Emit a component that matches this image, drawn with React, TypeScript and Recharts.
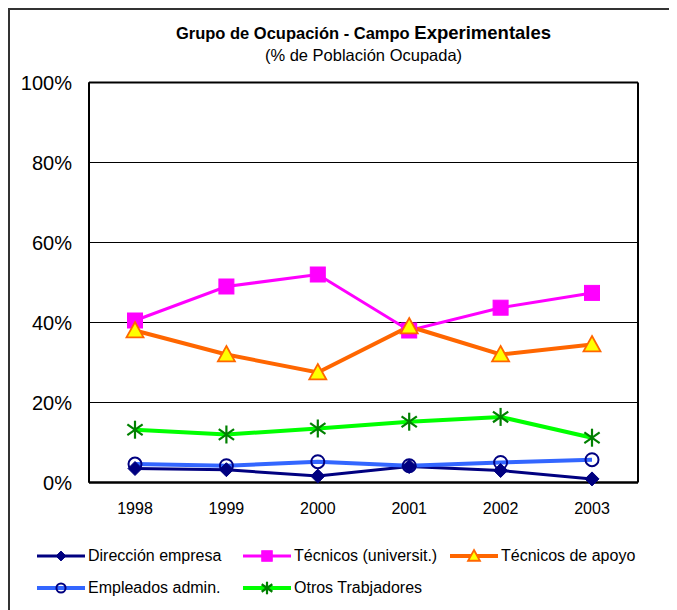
import React from 'react'
import { LineChart, Line, XAxis, YAxis, CartesianGrid } from 'recharts'

const YEARS = ['1998', '1999', '2000', '2001', '2002', '2003']
const DIRECCION = [3.5, 3.2, 1.6, 4.0, 3.0, 0.9]
const TEC_UNIV = [40.5, 49, 52, 38, 43.7, 47.4]
const TEC_APOYO = [38, 32, 27.5, 39, 32, 34.5]
const EMPLEADOS = [4.6, 4.2, 5.2, 4.2, 5.0, 5.7]
const OTROS = [13.2, 12, 13.5, 15.2, 16.4, 11.2]
const Y_TICKS = [0, 20, 40, 60, 80, 100]

const FONT = 'Arial, "Liberation Sans", sans-serif'

type Marker = 'diamond' | 'square' | 'triangle' | 'circle' | 'star'

interface Serie {
  key: string
  name: string
  values: number[]
  color: string
  width: number
  marker: Marker
}

const SERIES: Serie[] = [
  { key: 'dir', name: 'Dirección empresa', values: DIRECCION, color: '#000080', width: 3, marker: 'diamond' },
  { key: 'univ', name: 'Técnicos (universit.)', values: TEC_UNIV, color: '#FF00FF', width: 3, marker: 'square' },
  { key: 'apoyo', name: 'Técnicos de apoyo', values: TEC_APOYO, color: '#FF6600', width: 4, marker: 'triangle' },
  { key: 'emp', name: 'Empleados admin.', values: EMPLEADOS, color: '#3366FF', width: 4, marker: 'circle' },
  { key: 'otros', name: 'Otros Trabjadores', values: OTROS, color: '#00FF00', width: 4, marker: 'star' },
]

const data = YEARS.map((y, i) => {
  const row: Record<string, string | number> = { year: y }
  SERIES.forEach(s => { row[s.key] = s.values[i] })
  return row
})

function markerShape(m: Marker, cx: number, cy: number, k = 1, key?: string) {
  switch (m) {
    case 'diamond': {
      const r = 7 * k
      return <path key={key} d={`M${cx},${cy - r}L${cx + r},${cy}L${cx},${cy + r}L${cx - r},${cy}Z`} fill="#000080" stroke="#000080" />
    }
    case 'square': {
      const h = 7.5 * k
      return <rect key={key} x={cx - h} y={cy - h} width={h * 2} height={h * 2} fill="#FF00FF" stroke="#FF00FF" />
    }
    case 'triangle': {
      const h = 8.5 * k
      return <path key={key} d={`M${cx},${cy - h}L${cx + h},${cy + h * 0.8}L${cx - h},${cy + h * 0.8}Z`} fill="#FFFF00" stroke="#FF6600" strokeWidth={1.8} />
    }
    case 'circle':
      return <circle key={key} cx={cx} cy={cy} r={6.5 * k} fill="none" stroke="#000080" strokeWidth={2} />
    case 'star': {
      const r = 9 * k
      const d = r * 0.85
      return (
        <g key={key} stroke="#008000" strokeWidth={2.2}>
          <line x1={cx} y1={cy - r} x2={cx} y2={cy + r} />
          <line x1={cx - d} y1={cy - d * 0.7} x2={cx + d} y2={cy + d * 0.7} />
          <line x1={cx - d} y1={cy + d * 0.7} x2={cx + d} y2={cy - d * 0.7} />
        </g>
      )
    }
  }
}

function LegendItem({ s }: { s: Serie }) {
  return (
    <div style={{ display: 'flex', alignItems: 'center' }}>
      <svg width={48} height={18} style={{ display: 'block' }}>
        <line x1={0} y1={9} x2={48} y2={9} stroke={s.color} strokeWidth={s.width} />
        {markerShape(s.marker, 24, 9, 0.7)}
      </svg>
      <span style={{ marginLeft: 3 }}>{s.name}</span>
    </div>
  )
}

export default function App() {
  return (
    <div
      style={{
        position: 'relative',
        width: 667,
        height: 600,
        borderTop: '2px solid #333',
        borderLeft: '2px solid #333',
        fontFamily: FONT,
        color: '#000',
      }}
    >
      <div style={{ position: 'absolute', left: 0, width: 707, top: 12, textAlign: 'center', fontWeight: 'bold', fontSize: 16.5 }}>
        Grupo de Ocupación - Campo <span style={{ fontSize: 18.5 }}>Experimentales</span>
      </div>
      <div style={{ position: 'absolute', left: 0, width: 707, top: 36, textAlign: 'center', fontSize: 16.5 }}>
        (% de Población Ocupada)
      </div>
      <LineChart width={667} height={598} data={data} margin={{ top: 72.5, right: 39, left: 0, bottom: 95.5 }}>
        <CartesianGrid vertical={false} stroke="#000" strokeWidth={1} />
        {/* plot frame */}
        <CartesianGrid
          fill="none"
          stroke="#000"
          strokeWidth={2}
          horizontalCoordinatesGenerator={({ offset }: any) => [offset.top, offset.top + offset.height]}
          verticalCoordinatesGenerator={({ offset }: any) => [offset.left, offset.left + offset.width]}
        />
        <XAxis
          dataKey="year"
          padding={{ left: 46, right: 46 }}
          axisLine={{ stroke: '#000', strokeWidth: 2 }}
          tickLine={false}
          tickSize={0}
          tickMargin={20}
          height={30}
          interval={0}
          tick={{ fontSize: 16, fill: '#000', fontFamily: FONT }}
        />
        <YAxis
          domain={[0, 100]}
          ticks={Y_TICKS}
          tickFormatter={v => `${v}%`}
          axisLine={{ stroke: '#000', strokeWidth: 2 }}
          tickLine={false}
          tickSize={0}
          tickMargin={17}
          width={79}
          tick={{ fontSize: 20, fill: '#000', fontFamily: FONT }}
        />
        {SERIES.map(s => (
          <Line
            key={s.key}
            type="linear"
            dataKey={s.key}
            name={s.name}
            stroke={s.color}
            strokeWidth={s.width}
            isAnimationActive={false}
            dot={(p: any) => markerShape(s.marker, p.cx, p.cy, 1, `${s.key}-${p.index}`)}
            activeDot={false}
          />
        ))}
      </LineChart>
      <div style={{ position: 'absolute', left: 27, top: 537, fontSize: 16 }}>
        <div style={{ display: 'flex' }}>
          <div style={{ width: 206 }}><LegendItem s={SERIES[0]} /></div>
          <div style={{ width: 207 }}><LegendItem s={SERIES[1]} /></div>
          <div><LegendItem s={SERIES[2]} /></div>
        </div>
        <div style={{ display: 'flex', marginTop: 14 }}>
          <div style={{ width: 206 }}><LegendItem s={SERIES[3]} /></div>
          <div><LegendItem s={SERIES[4]} /></div>
        </div>
      </div>
    </div>
  )
}
